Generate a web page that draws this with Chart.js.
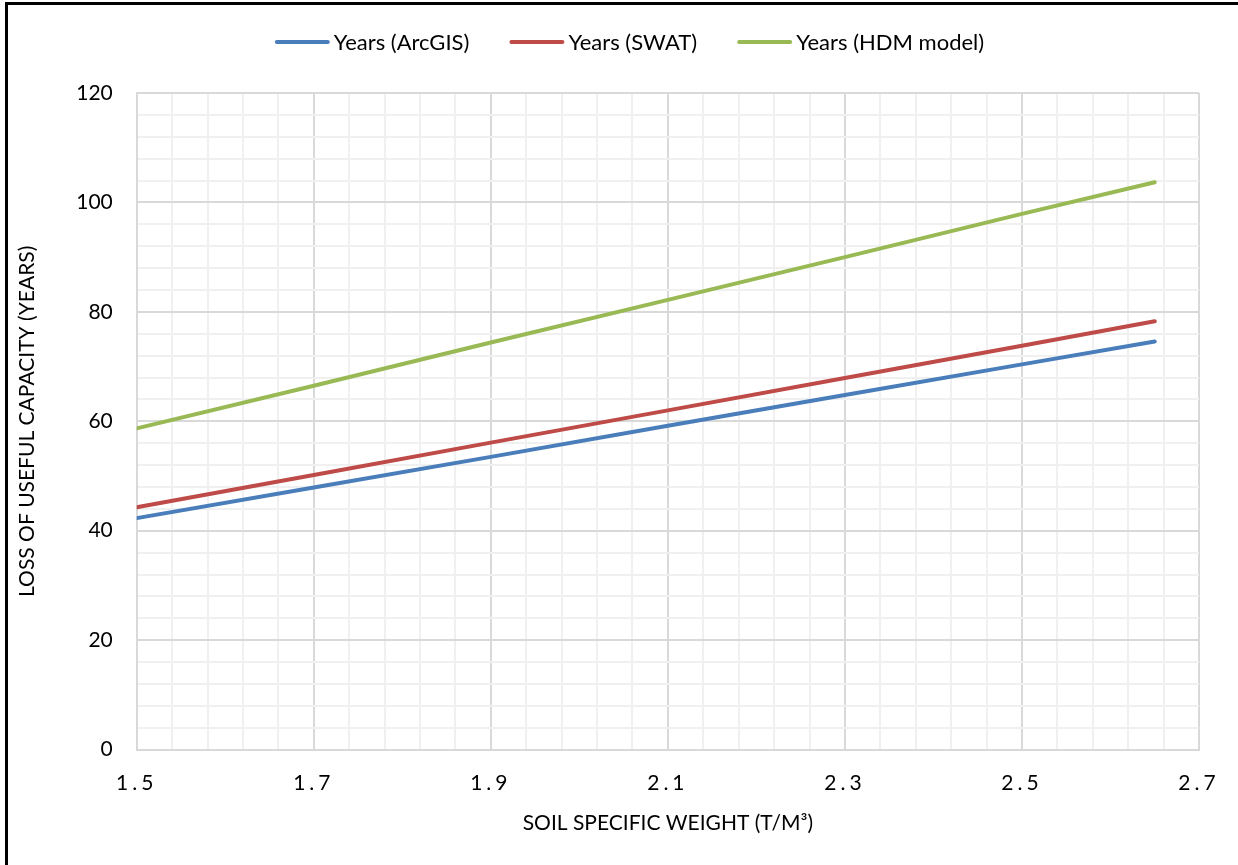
<!DOCTYPE html>
<html>
<head>
<meta charset="utf-8">
<script src="https://cdn.jsdelivr.net/npm/chart.js@4/dist/chart.umd.min.js"></script>
<style>
  html, body { margin: 0; padding: 0; background: #fff; }
  #frame {
    position: absolute; left: 5px; top: 2px;
    width: 1233px; height: 863px;
    border-left: 3px solid #000; border-top: 3px solid #000;
  }
  #wrap { position: absolute; left: 0; top: 0; width: 1233px; height: 863px; }
</style>
</head>
<body>
<div id="frame"><div id="wrap"><canvas id="myChart"></canvas></div></div>
<script>
// soil specific weight (t/m3)
const weights = [1.5, 1.7, 1.9, 2.1, 2.3, 2.5, 2.65]
// loss of useful capacity (years)
const yearsArcGIS = [42.3, 47.9, 53.5, 59.2, 64.8, 70.4, 74.6]
const yearsSWAT = [44.3, 50.2, 56.1, 62.0, 67.9, 73.8, 78.3]
const yearsHDM = [58.7, 66.5, 74.4, 82.2, 90.0, 97.9, 103.7]
const seriesNames = ['Years (ArcGIS)', 'Years (SWAT)', 'Years (HDM model)']
const xTickLabels = ['1.5', '1.7', '1.9', '2.1', '2.3', '2.5', '2.7']
const yTickLabels = ['0', '20', '40', '60', '80', '100', '120']

;(() => {
  'use strict'

  const font = 'Lato'
  const pts = ys => weights.map((w, i) => ({ x: w, y: ys[i] }))
  const line = (label, ys, color) => ({
    label,
    data: pts(ys),
    borderColor: color,
    backgroundColor: color,
    borderWidth: 4,
    pointRadius: 0,
    tension: 0,
    borderCapStyle: 'round'
  })

  // x grid: minor line every 0.04, major every 0.2
  const xMin = 1.5
  const xMax = 2.7
  const xIsMajor = v => xTickLabels.includes(v.toFixed(1)) && Math.abs(v * 10 - Math.round(v * 10)) < 1e-6
  const yIsMajor = v => yTickLabels.includes(String(v))

  // the x tick labels are spaced out in the original
  const spacedXLabels = {
    id: 'spacedXLabels',
    afterLayout (chart) {
      const s = chart.scales.x
      if (s._spaced) return
      const orig = s.drawLabels.bind(s)
      s.drawLabels = area => {
        chart.ctx.save()
        chart.ctx.letterSpacing = '4px'
        orig(area)
        chart.ctx.restore()
      }
      s._spaced = true
    }
  }

  // excel-like legend: long line swatch, text right after it
  const topLegend = {
    id: 'topLegend',
    afterDraw (chart) {
      const c = chart.ctx
      const swatch = 55
      const gap = 4
      const between = 40
      c.save()
      c.font = '22px ' + font
      c.textBaseline = 'middle'
      const items = chart.data.datasets.map(d => ({ d, w: c.measureText(d.label).width }))
      const total = items.reduce((s, it) => s + swatch + gap + it.w, 0) + between * (items.length - 1)
      let x = chart.width / 2 + 5 - total / 2
      const y = 37
      items.forEach(it => {
        c.strokeStyle = it.d.borderColor
        c.lineWidth = 4
        c.lineCap = 'round'
        c.beginPath()
        c.moveTo(x + 2, y)
        c.lineTo(x + swatch - 2, y)
        c.stroke()
        c.fillStyle = '#000'
        c.fillText(it.d.label, x + swatch + gap, y + 1)
        x += swatch + gap + it.w + between
      })
      c.restore()
    }
  }

  const ctx = document.getElementById('myChart')
  new Chart(ctx, {
    type: 'line',
    data: {
      datasets: [
        line(seriesNames[0], yearsArcGIS, '#4a7ebb'),
        line(seriesNames[1], yearsSWAT, '#be4b48'),
        line(seriesNames[2], yearsHDM, '#98b954')
      ]
    },
    plugins: [spacedXLabels, topLegend],
    options: {
      responsive: true,
      maintainAspectRatio: false,
      animation: false,
      layout: { padding: { left: 3, right: 42, top: 88, bottom: 28 } },
      plugins: {
        legend: { display: false },
        tooltip: { enabled: false }
      },
      scales: {
        x: {
          type: 'linear',
          min: xMin,
          max: xMax,
          afterBuildTicks: scale => {
            const t = []
            for (let i = 0; i <= 30; i++) t.push({ value: Math.round((xMin + i * 0.04) * 100) / 100 })
            scale.ticks = t
          },
          ticks: {
            autoSkip: false,
            maxRotation: 0,
            padding: 21,
            color: '#000',
            font: { family: font, size: 21 },
            callback: v => (xIsMajor(v) ? v.toFixed(1) : '')
          },
          grid: {
            color: c => (xIsMajor(c.tick.value) ? '#d9d9d9' : '#f0f0f0'),
            lineWidth: 2,
            drawTicks: false
          },
          border: { color: '#d9d9d9', width: 2 },
          title: {
            display: true,
            text: 'SOIL SPECIFIC WEIGHT (T/M³)',
            color: '#000',
            font: { family: font, size: 21 },
            padding: { top: -6, bottom: 4 }
          }
        },
        y: {
          min: 0,
          max: 120,
          ticks: {
            stepSize: 4,
            autoSkip: false,
            padding: 24,
            color: '#000',
            font: { family: font, size: 21 },
            callback: v => (yIsMajor(v) ? String(v) : '')
          },
          grid: {
            color: c => (yIsMajor(c.tick.value) ? '#d9d9d9' : '#f0f0f0'),
            lineWidth: 2,
            drawTicks: false
          },
          border: { color: '#d9d9d9', width: 2 },
          title: {
            display: true,
            text: 'LOSS OF USEFUL CAPACITY (YEARS)',
            color: '#000',
            font: { family: font, size: 21 },
            padding: { bottom: 12 }
          }
        }
      }
    }
  })
})()
</script>
</body>
</html>
